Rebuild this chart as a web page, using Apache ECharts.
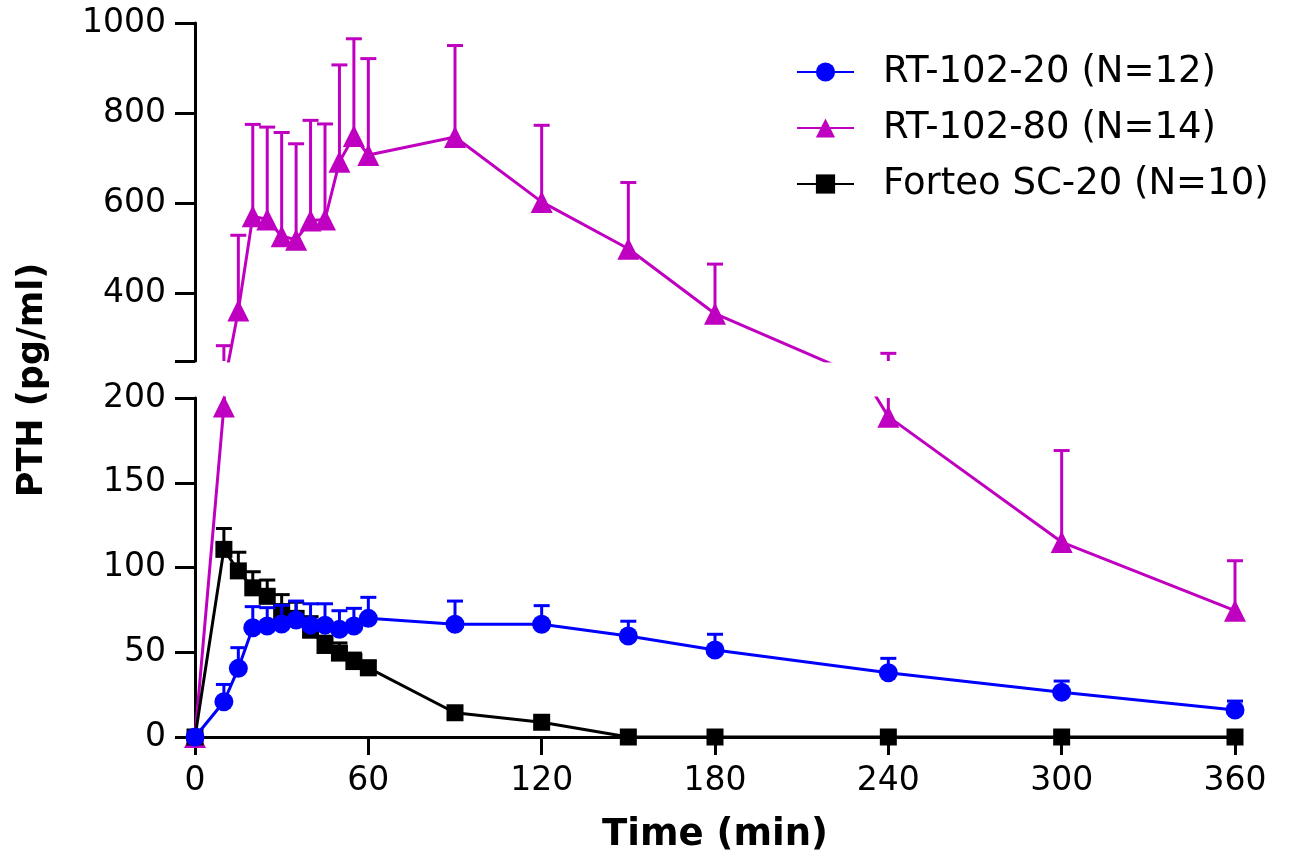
<!DOCTYPE html>
<html>
<head>
<meta charset="utf-8">
<script src="https://cdn.jsdelivr.net/npm/echarts@6/dist/echarts.min.js"></script>
<style>
  html, body { margin: 0; padding: 0; background: #fff; }
  #main { width: 1309px; height: 861px; }
</style>
</head>
<body>
<div id="main"></div>
<script>
// sampling times (min)
var times = [0, 10, 15, 20, 25, 30, 35, 40, 45, 50, 55, 60, 90, 120, 150, 180, 240, 300, 360];

// RT-102-20 (N=12): mean and SD
var rt20Mean = [0, 20.8, 40.5, 64.5, 65.5, 66.7, 69, 66, 66, 63.5, 65.5, 70, 66.5, 66.5, 59.6, 51.3, 37.9, 26.4, 15.9];
var rt20Sd = [0, 10.2, 12.2, 12.4, 10.8, 11, 11.2, 12.6, 12.6, 11, 10.4, 12.4, 13.7, 11, 8.7, 9.3, 8.5, 6.6, 5.3];

// RT-102-80 (N=14)
var rt80Mean = [0, 195, 362, 571, 564, 527, 519, 562, 564, 692, 749, 707, 747, 603, 499, 355, 189, 115, 74.5];
var rt80Sd = [0, 89, 167, 204, 205, 230, 213, 222, 212, 215, 216, 214, 203, 170, 147, 110, 78, 54, 29.5];

// Forteo SC-20 (N=10)
var forteoMean = [0, 110.7, 98, 88, 83, 74, 70, 63, 54, 49.5, 44.5, 40.8, 14.3, 8.7, 0, 0, 0, 0, 0];
var forteoSd = [0, 12.3, 11, 9.5, 9.6, 10, 9.5, 8, 5.5, 6, 5, 4, 1.5, 1, 0, 0, 0, 0, 0];

// broken y axis: lower panel 0-200, upper panel 250-1000
var lowRange = [0, 200];
var highRange = [250, 1000];
var topTicks = [250, 400, 600, 800, 1000];
var topLabels = [400, 600, 800, 1000];

var names = ['RT-102-20 (N=12)', 'RT-102-80 (N=14)', 'Forteo SC-20 (N=10)'];
var BLUE = '#0000ff', MAGENTA = '#c000c0', BLACK = '#000000';
var FONT = 'DejaVu Sans';
var LW = 3;

function pairs(mean) {
  return times.map(function (t, i) { return [t, mean[i]]; });
}
function triples(mean, sd) {
  return times.map(function (t, i) { return [t, mean[i], sd[i]]; });
}

// upward SD bars, cut at the panel's value range (cap only if it fits)
function errorBars(color, range) {
  return function (params, api) {
    var x = api.value(0), m = api.value(1), s = api.value(2);
    if (!(s > 0)) return;
    var top = m + s;
    if (top < range[0] || m > range[1]) return;
    var from = Math.max(m, range[0]);
    var to = Math.min(top, range[1]);
    var p0 = api.coord([x, from]);
    var p1 = api.coord([x, to]);
    var st = { stroke: color, lineWidth: LW };
    var kids = [{ type: 'line', shape: { x1: p0[0], y1: p0[1], x2: p1[0], y2: p1[1] }, style: st }];
    if (top <= range[1]) {
      kids.push({ type: 'line', shape: { x1: p1[0] - 8, y1: p1[1], x2: p1[0] + 8, y2: p1[1] }, style: st });
    }
    return { type: 'group', children: kids };
  };
}

var axisLineStyle = { color: '#000', width: LW };
var labelStyle = { color: '#000', fontFamily: FONT, fontSize: 33 };

var chart = echarts.init(document.getElementById('main'));

var option = {
  animation: false,
  backgroundColor: '#fff',
  grid: [
    { left: 195, top: 23, width: 1040, height: 338 },
    { left: 195, top: 398, width: 1040, height: 339 }
  ],
  legend: {
    orient: 'vertical',
    left: 791,
    top: 47,
    itemWidth: 57,
    itemHeight: 24,
    itemGap: 16,
    data: names,
    textStyle: { color: '#000', fontFamily: FONT, fontSize: 37, lineHeight: 40, padding: [0, 0, 0, 24] }
  },
  xAxis: [
    { gridIndex: 0, type: 'value', min: 0, max: 360, show: false },
    {
      gridIndex: 1, type: 'value', min: 0, max: 360, interval: 60,
      axisLine: { onZero: false, lineStyle: axisLineStyle },
      axisTick: { show: true, length: 18, lineStyle: axisLineStyle },
      axisLabel: Object.assign({ margin: 28 }, labelStyle),
      splitLine: { show: false },
      name: 'Time (min)', nameLocation: 'middle', nameGap: 80,
      nameTextStyle: { color: '#000', fontFamily: FONT, fontSize: 37, fontWeight: 'bold' }
    }
  ],
  yAxis: [
    {
      gridIndex: 0, type: 'value', min: highRange[0], max: highRange[1],
      axisLine: { show: true, onZero: false, lineStyle: axisLineStyle },
      axisTick: { show: true, length: 20, lineStyle: axisLineStyle, customValues: topTicks },
      axisLabel: Object.assign({ margin: 29, customValues: topLabels, formatter: function (v) { return String(v); } }, labelStyle),
      splitLine: { show: false }
    },
    {
      gridIndex: 1, type: 'value', min: lowRange[0], max: lowRange[1], interval: 50,
      axisLine: { show: true, onZero: false, lineStyle: axisLineStyle },
      axisTick: { show: true, length: 20, lineStyle: axisLineStyle },
      axisLabel: Object.assign({ margin: 29 }, labelStyle),
      splitLine: { show: false }
    }
  ],
  graphic: [
    {
      type: 'text', x: 33, y: 380, rotation: Math.PI / 2,
      style: {
        text: 'PTH (pg/ml)', fill: '#000', font: 'bold 35px "DejaVu Sans"',
        align: 'center', verticalAlign: 'middle'
      }
    }
  ],
  series: [
    // upper panel
    {
      name: names[1], type: 'line', xAxisIndex: 0, yAxisIndex: 0, clip: true, z: 2,
      data: pairs(rt80Mean), symbol: 'triangle', symbolSize: 22,
      lineStyle: { color: MAGENTA, width: LW }, itemStyle: { color: MAGENTA }
    },
    {
      name: 'err80top', type: 'custom', xAxisIndex: 0, yAxisIndex: 0, z: 1,
      data: triples(rt80Mean, rt80Sd), renderItem: errorBars(MAGENTA, highRange)
    },
    // lower panel
    {
      name: 'err80', type: 'custom', xAxisIndex: 1, yAxisIndex: 1, z: 1,
      data: triples(rt80Mean, rt80Sd), renderItem: errorBars(MAGENTA, lowRange)
    },
    {
      name: 'errF', type: 'custom', xAxisIndex: 1, yAxisIndex: 1, z: 3,
      data: triples(forteoMean, forteoSd), renderItem: errorBars(BLACK, lowRange)
    },
    {
      name: 'err20', type: 'custom', xAxisIndex: 1, yAxisIndex: 1, z: 5,
      data: triples(rt20Mean, rt20Sd), renderItem: errorBars(BLUE, lowRange)
    },
    {
      name: names[1], type: 'line', xAxisIndex: 1, yAxisIndex: 1, clip: true, z: 2,
      data: pairs(rt80Mean), symbol: 'triangle', symbolSize: 22,
      lineStyle: { color: MAGENTA, width: LW }, itemStyle: { color: MAGENTA }
    },
    {
      name: names[2], type: 'line', xAxisIndex: 1, yAxisIndex: 1, clip: true, z: 4,
      data: pairs(forteoMean), symbol: 'rect', symbolSize: 17,
      lineStyle: { color: BLACK, width: LW }, itemStyle: { color: BLACK }
    },
    {
      name: names[0], type: 'line', xAxisIndex: 1, yAxisIndex: 1, clip: true, z: 6,
      data: pairs(rt20Mean), symbol: 'circle', symbolSize: 19,
      lineStyle: { color: BLUE, width: LW }, itemStyle: { color: BLUE }
    }
  ]
};

chart.setOption(option);
</script>
</body>
</html>
